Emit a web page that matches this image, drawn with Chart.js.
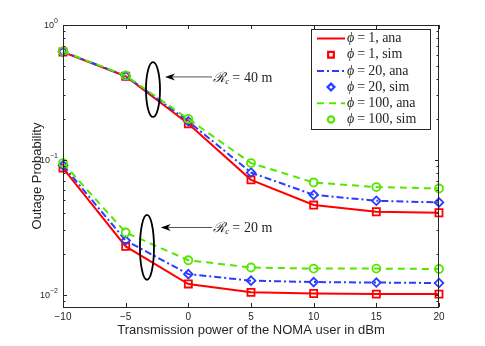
<!DOCTYPE html>
<html>
<head>
<meta charset="utf-8">
<script src="https://cdn.jsdelivr.net/npm/chart.js@4.4.1/dist/chart.umd.min.js"></script>
<style>
  html, body { margin: 0; padding: 0; background: #fff; }
  canvas { display: block; }
</style>
</head>
<body>
<canvas id="outageChart" width="485" height="346"></canvas>
<script>
// transmission power of the NOMA user (dBm)
const powerDbm = [-10, -5, 0, 5, 10, 15, 20];

// outage probability, Rc = 40 m
const rc40Phi1   = [0.630, 0.417, 0.185, 0.0711, 0.0462, 0.0412, 0.0405];
const rc40Phi20  = [0.634, 0.419, 0.193, 0.0805, 0.0550, 0.0497, 0.0483];
const rc40Phi100 = [0.637, 0.421, 0.201, 0.0946, 0.0679, 0.0628, 0.0613];

// outage probability, Rc = 20 m
const rc20Phi1   = [0.0868, 0.0228, 0.0120, 0.0104, 0.0102, 0.0101, 0.0101];
const rc20Phi20  = [0.0910, 0.0252, 0.0142, 0.0127, 0.0124, 0.0123, 0.0122];
const rc20Phi100 = [0.0946, 0.0289, 0.0180, 0.0159, 0.0156, 0.0156, 0.0155];

const phiValues = ['1', '20', '100'];
const yDecades = [0.01, 0.1, 1];
const xTicks = [-10, -5, 0, 5, 10, 15, 20];

const colors = ['#ff0000', '#2a3cff', '#55e600'];
const dashes = [[], [7, 3, 2, 3], [7, 5]];
const markers = ['rect', 'rectRot', 'circle'];
const markerRadius = [5, 4.3, 4];

// ellipse + arrow callouts, in data units
const callouts = [
  { label: '40', cx: -2.82, yTop: 0.53, yBot: 0.208, halfW: 0.56, arrowY: 0.412, from: 1.9, to: -1.86 },
  { label: '20', cx: -3.3, yTop: 0.039, yBot: 0.0129, halfW: 0.56, arrowY: 0.0315, from: 1.9, to: -2.2 }
];

function makePoints(values) {
  return powerDbm.map((x, i) => ({ x: x, y: values[i] }));
}

const curves = [[rc40Phi1, rc20Phi1], [rc40Phi20, rc20Phi20], [rc40Phi100, rc20Phi100]];
const datasets = [];
curves.forEach((pair, k) => {
  pair.forEach(values => {
    datasets.push({
      data: makePoints(values), borderColor: colors[k], borderWidth: 2, borderDash: dashes[k],
      pointRadius: 0, fill: false, tension: 0, clip: false
    });
    datasets.push({
      data: makePoints(values), showLine: false, pointStyle: markers[k], pointRadius: markerRadius[k],
      pointBorderColor: colors[k], pointBackgroundColor: 'rgba(0,0,0,0)', pointBorderWidth: 1.8, clip: false
    });
  });
});
// later curves sit on top, like the original plot
datasets.forEach((d, i) => { d.order = 100 - i; });

const sans = "'Liberation Sans', Arial, sans-serif";
const serif = "'Liberation Serif', 'DejaVu Serif', serif";

const matlabLook = {
  id: 'matlabLook',
  afterDatasetsDraw(chart) {
    const { ctx, chartArea: a, scales: { x, y } } = chart;
    ctx.save();

    // axes box
    ctx.strokeStyle = '#262626';
    ctx.lineWidth = 1;
    ctx.strokeRect(Math.round(a.left) + 0.5, Math.round(a.top) + 0.5,
      Math.round(a.right - a.left) - 1, Math.round(a.bottom - a.top));

    // inward ticks
    ctx.beginPath();
    xTicks.forEach(v => {
      const px = Math.round(x.getPixelForValue(v)) + 0.5;
      ctx.moveTo(px, a.bottom); ctx.lineTo(px, a.bottom - 4);
      ctx.moveTo(px, a.top); ctx.lineTo(px, a.top + 4);
    });
    for (let e = -3; e <= 0; e++) {
      for (let m = 1; m <= 9; m++) {
        const v = m * Math.pow(10, e);
        if (v < y.min || v > y.max) continue;
        const py = Math.round(y.getPixelForValue(v)) + 0.5;
        const len = m === 1 ? 4 : 2.5;
        ctx.moveTo(a.left, py); ctx.lineTo(a.left + len, py);
        ctx.moveTo(a.right, py); ctx.lineTo(a.right - len, py);
      }
    }
    ctx.stroke();

    // y tick labels 10^n
    ctx.fillStyle = '#262626';
    yDecades.forEach(v => {
      const e = Math.round(Math.log10(v));
      const py = y.getPixelForValue(v);
      const expText = e < 0 ? '\u2212' + Math.abs(e) : String(e);
      ctx.font = '7px ' + sans;
      const ew = ctx.measureText(expText).width;
      ctx.textBaseline = 'middle';
      ctx.textAlign = 'left';
      ctx.fillText(expText, a.left - 5 - ew, py - 4);
      ctx.font = '9px ' + sans;
      ctx.textAlign = 'right';
      ctx.fillText('10', a.left - 5 - ew, py + 1);
    });

    // axis titles
    ctx.font = '13px ' + sans;
    ctx.textAlign = 'center';
    ctx.textBaseline = 'middle';
    ctx.fillText('Transmission power of the NOMA user in dBm', (a.left + a.right) / 2, 330);
    ctx.save();
    ctx.translate(37, (a.top + a.bottom) / 2 + 10);
    ctx.rotate(-Math.PI / 2);
    ctx.fillText('Outage Probability', 0, 0);
    ctx.restore();

    // callouts
    callouts.forEach(c => {
      const cx = x.getPixelForValue(c.cx);
      const top = y.getPixelForValue(c.yTop);
      const bot = y.getPixelForValue(c.yBot);
      const rx = x.getPixelForValue(c.cx + c.halfW) - cx;
      ctx.strokeStyle = '#000';
      ctx.lineWidth = 1.8;
      ctx.beginPath();
      ctx.ellipse(cx, (top + bot) / 2, rx, (bot - top) / 2, 0, 0, Math.PI * 2);
      ctx.stroke();

      const ay = y.getPixelForValue(c.arrowY);
      const x0 = x.getPixelForValue(c.from);
      const x1 = x.getPixelForValue(c.to);
      ctx.strokeStyle = '#555';
      ctx.lineWidth = 1;
      ctx.beginPath();
      ctx.moveTo(x0, ay); ctx.lineTo(x1 + 6, ay);
      ctx.stroke();
      ctx.fillStyle = '#000';
      ctx.beginPath();
      ctx.moveTo(x1, ay);
      ctx.lineTo(x1 + 10, ay - 3.5);
      ctx.lineTo(x1 + 7, ay);
      ctx.lineTo(x1 + 10, ay + 3.5);
      ctx.closePath();
      ctx.fill();

      ctx.fillStyle = '#262626';
      ctx.textAlign = 'left';
      ctx.textBaseline = 'alphabetic';
      let tx = x0 + 1;
      ctx.font = 'italic 14px ' + serif;
      ctx.fillText('\u211B', tx, ay + 5);
      tx += ctx.measureText('\u211B').width;
      ctx.font = 'italic 9px ' + serif;
      ctx.fillText('c', tx, ay + 7);
      tx += ctx.measureText('c').width + 3;
      ctx.font = '14px ' + serif;
      ctx.fillText('=', tx, ay + 5);
      tx += ctx.measureText('=').width + 4;
      ctx.fillText(c.label + ' m', tx, ay + 5);
    });

    // legend
    const lx = a.right - 9, ly = a.top + 4, lw = 119, lh = 100;
    ctx.fillStyle = '#fff';
    ctx.fillRect(lx - lw, ly, lw, lh);
    ctx.strokeStyle = '#262626';
    ctx.lineWidth = 1;
    ctx.strokeRect(Math.round(lx - lw) + 0.5, Math.round(ly) + 0.5, lw, lh);
    phiValues.forEach((p, k) => {
      ['ana', 'sim'].forEach((kind, j) => {
        const ry = ly + 9.5 + (k * 2 + j) * 16.2;
        const sx = lx - lw + 6;
        if (kind === 'ana') {
          ctx.strokeStyle = colors[k];
          ctx.lineWidth = 2;
          ctx.setLineDash(dashes[k]);
          ctx.beginPath();
          ctx.moveTo(sx, ry); ctx.lineTo(sx + 28, ry);
          ctx.stroke();
          ctx.setLineDash([]);
        } else {
          ctx.strokeStyle = colors[k];
          ctx.fillStyle = '#fff';
          ctx.lineWidth = 2.2;
          Chart.helpers.drawPoint(ctx, { pointStyle: markers[k], radius: markerRadius[k] * 0.8, borderWidth: 2.2 }, sx + 14, ry);
        }
        ctx.fillStyle = '#262626';
        ctx.textAlign = 'left';
        ctx.textBaseline = 'middle';
        let tx = sx + 30;
        ctx.font = 'italic 14px ' + serif;
        ctx.fillText('\u03D5', tx, ry);
        tx += ctx.measureText('\u03D5').width + 3;
        ctx.font = '14px ' + serif;
        ctx.fillText('=', tx, ry);
        tx += ctx.measureText('=').width + 3;
        ctx.fillText(p + ', ' + kind, tx, ry);
      });
    });

    ctx.restore();
  }
};

new Chart(document.getElementById('outageChart'), {
  type: 'line',
  data: { datasets: datasets },
  options: {
    responsive: false,
    animation: false,
    devicePixelRatio: 1,
    layout: { padding: { left: 63, right: 46, top: 25, bottom: 0 } },
    plugins: { legend: { display: false }, tooltip: { enabled: false } },
    scales: {
      x: {
        type: 'linear', min: -10, max: 20,
        ticks: {
          stepSize: 5, padding: 4, maxRotation: 0, color: '#262626',
          font: { family: sans, size: 10 },
          callback: v => v < 0 ? '\u2212' + Math.abs(v) : String(v)
        },
        grid: { display: false, drawTicks: false },
        border: { display: false },
        afterFit: s => { s.height = 39; }
      },
      y: { type: 'logarithmic', min: 0.0081, max: 1, display: false }
    }
  },
  plugins: [matlabLook]
});
</script>
</body>
</html>
